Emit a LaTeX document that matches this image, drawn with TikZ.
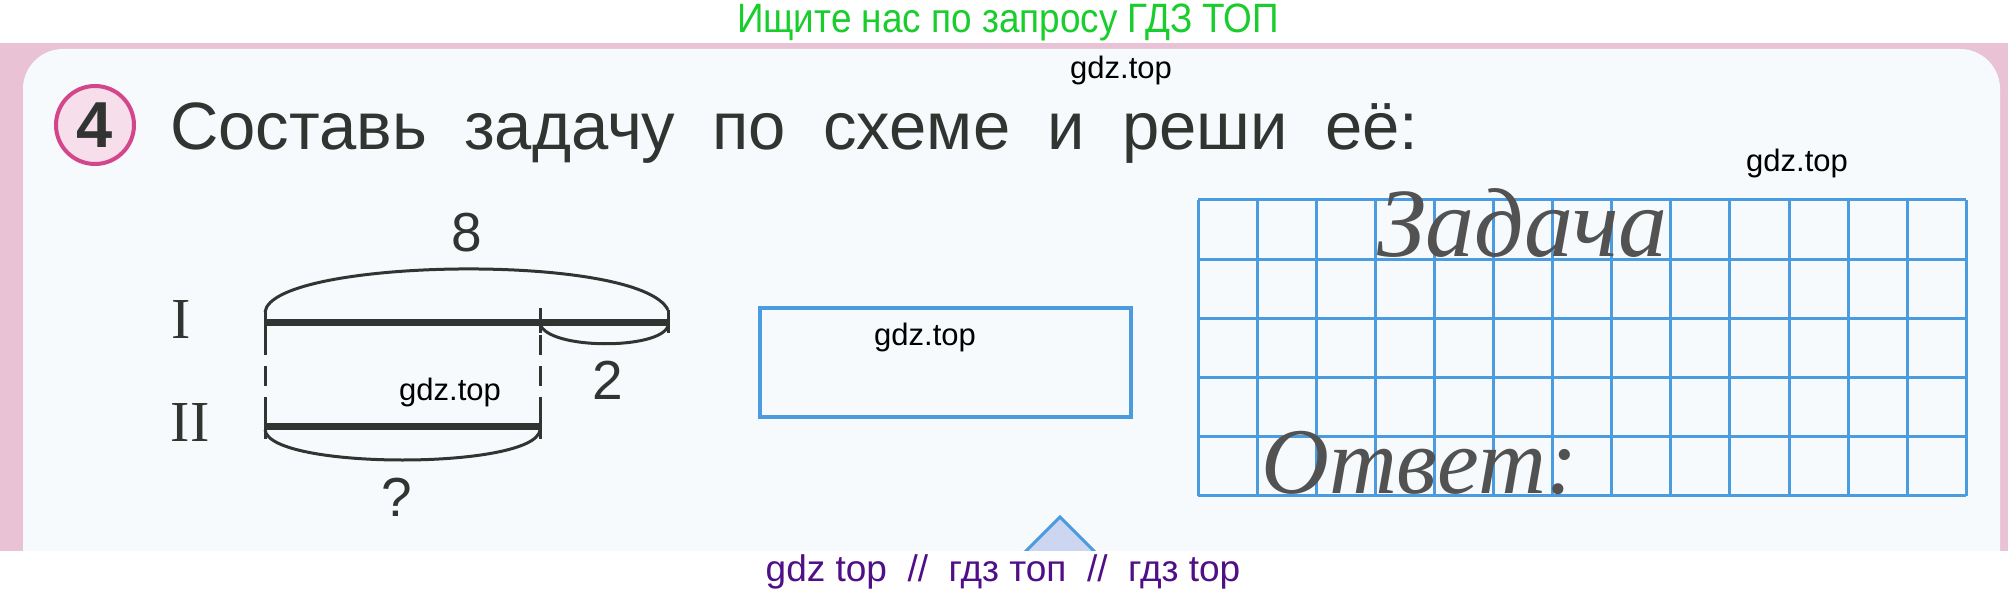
\documentclass[tikz,border=0pt]{standalone}
\usepackage{fontspec}
\setmainfont{Liberation Sans}
\newfontfamily\romanfont{Liberation Serif}
\newfontfamily\narrowfont[FakeStretch=0.9]{Liberation Sans}

\definecolor{pinkband}{RGB}{233,195,213}
\definecolor{panel}{RGB}{247,250,252}
\definecolor{ink}{RGB}{50,52,50}
\definecolor{gridblue}{RGB}{75,155,225}
\definecolor{ringpink}{RGB}{212,70,140}
\definecolor{ringfill}{RGB}{246,222,234}
\definecolor{gdzgreen}{RGB}{25,205,45}
\definecolor{gdzpurple}{RGB}{80,15,135}
\definecolor{trifill}{RGB}{205,214,240}

\tikzset{
  wmark/.style={inner sep=0pt,font=\fontsize{31}{31}\selectfont},
  num/.style={inner sep=0pt,text=ink,font=\fontsize{55}{55}\selectfont},
  roman/.style={inner sep=0pt,text=ink,font=\romanfont\fontsize{58}{58}\selectfont},
  hand/.style={inner sep=0pt,anchor=base west,text=ink!85,font=\romanfont\itshape\fontsize{#1}{#1}\selectfont},
  seg/.style={draw=ink,line width=7pt},
  tick/.style={draw=ink,line width=3pt},
  arc/.style={draw=ink,line width=3pt},
  gridline/.style={draw=gridblue,line width=3pt}
}

\begin{document}
\begin{tikzpicture}[x=1pt,y=-1pt]
    \useasboundingbox (0,0) rectangle (2008,596);

    % page
    \fill[pinkband] (0,43) rectangle (2008,551);
    \fill[panel,rounded corners=40pt] (23,551) -- (23,49) -- (2000,49) -- (2000,551);
    \fill[trifill,draw=gridblue,line width=3pt] (1024,553) -- (1060,517) -- (1096,553);
    \fill[white] (0,551) rectangle (2008,596);

    \node[inner sep=0pt,text=gdzgreen,font=\narrowfont\fontsize{41}{41}\selectfont] (top) at (1008,22) {Ищите нас по запросу ГДЗ ТОП};
    \node[inner sep=0pt,text=gdzpurple,font=\fontsize{37}{37}\selectfont] (bot) at (1003,572) {gdz top\ \ //\ \ гдз топ\ \ //\ \ гдз top};

    % heading
    \node[circle,draw=ringpink,fill=ringfill,line width=4pt,minimum size=78pt,inner sep=0pt,
          text=ink,font=\bfseries\fontsize{65}{65}\selectfont] (N) at (95,125) {4};
    \node[anchor=base west,inner sep=0pt,text=ink,font=\fontsize{67}{67}\selectfont] (T) at (170,150)
        {Составь\ \ задачу\ \ по\ \ схеме\ \ и\ \ реши\ \ её:};

    % scheme
    \coordinate (A) at (265,322);
    \coordinate (B) at (540,322);
    \coordinate (C) at (668,322);
    \coordinate (D) at (265,426);
    \coordinate (E) at (540,426);

    \draw[seg] (A) -- (C);
    \draw[seg] (D) -- (E);
    \draw[tick] (A) ++(0,-12) -- ++(0,25);
    \draw[tick] (B) ++(0,-14) -- ++(0,25);
    \draw[tick] (C) ++(0,-12) -- ++(0,23);
    \draw[tick] (D) ++(0,-11) -- ++(0,24);
    \draw[tick] (E) ++(0,-11) -- ++(0,24);
    \draw[tick,dash pattern=on 20pt off 11pt] (A) ++(0,13) -- (D);
    \draw[tick,dash pattern=on 20pt off 11pt] (B) ++(0,13) -- (E);

    \draw[arc] (A) ++(0,-10) .. controls (272,258) and (640,252) .. (668,310);
    \draw[arc] (B) ++(0,2) .. controls (548,350) and (660,350) .. (668,326);
    \draw[arc] (D) ++(0,4) .. controls (270,470) and (535,470) .. (540,430);

    \node[roman] (I) at (181,320) {I};
    \node[roman] (II) at (190,423) {II};
    \node[num] (F) at (467,233) {8};
    \node[num] (G) at (608,380) {2};
    \node[num] (H) at (397,497) {?};

    % answer box
    \node[draw=gridblue,line width=4pt,minimum width=371pt,minimum height=109pt,inner sep=0pt] (box) at (945.5,362.5) {};

    % squared paper
    \foreach \i in {0,...,13}
        \draw[gridline] (1198+\i*59.1,200) -- (1198+\i*59.1,495.5);
    \foreach \j in {0,...,5}
        \draw[gridline] (1198,200+\j*59.1) -- (1966.3,200+\j*59.1);
    \node[hand=98] (Z) at (1377,257) {Задача};
    \node[hand=94] (O) at (1261,493) {Ответ:};

    % watermarks
    \node[wmark] (w1) at (1121,70) {gdz.top};
    \node[wmark] (w2) at (1797,163) {gdz.top};
    \node[wmark] (w3) at (925,337) {gdz.top};
    \node[wmark] (w4) at (450,392) {gdz.top};
\end{tikzpicture}
\end{document}
